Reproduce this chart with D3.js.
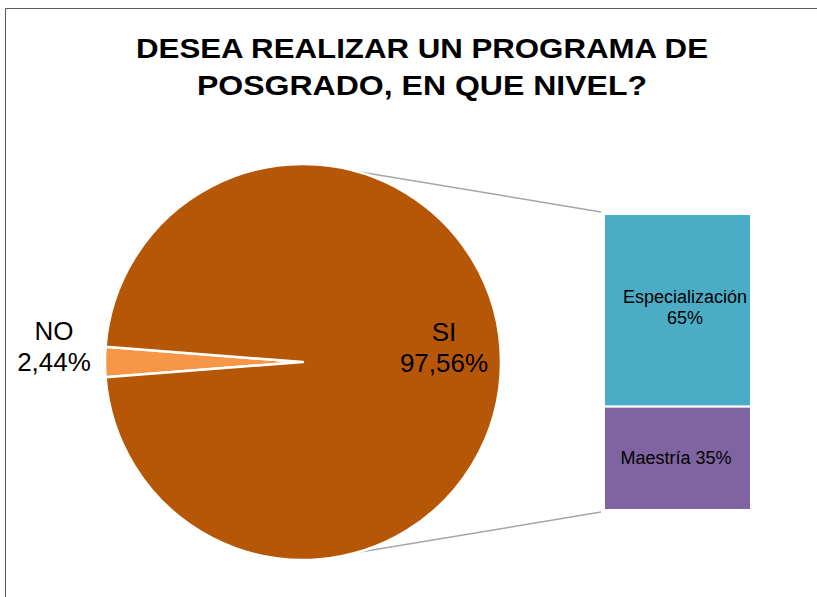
<!DOCTYPE html>
<html>
<head>
<meta charset="utf-8">
<script src="https://cdn.jsdelivr.net/npm/d3@7"></script>
<style>
  body { margin: 0; background: #fff; }
  text { font-family: "Liberation Sans", Arial, sans-serif; fill: #000; }
</style>
</head>
<body>
<div class="chart"></div>
<script>
// data
var titleLines = ["DESEA REALIZAR UN PROGRAMA DE", "POSGRADO, EN QUE NIVEL?"];
var pieLabels = ["NO", "SI"];
var pieValues = [2.44, 97.56];
var pieColors = ["#F79646", "#B65708"];

var barLabels = ["Maestría", "Especialización"];
var barValues = [35, 65];
var barColors = ["#8064A2", "#4BACC6"];

var width = 817,
    height = 597;

var svg = d3.select(".chart")
  .append("svg")
  .attr("width", width)
  .attr("height", height);

// outer frame
svg.append("path")
  .attr("d", "M5.5," + height + "V8.5H" + width)
  .attr("fill", "none")
  .attr("stroke", "#595959")
  .attr("stroke-width", 1);

// title
var titleW = [572, 450];
svg.append("g").selectAll("text")
  .data(titleLines)
  .enter().append("text")
  .attr("x", 422)
  .attr("y", function(d, i) { return 58 + i * 37; })
  .attr("text-anchor", "middle")
  .attr("textLength", function(d, i) { return titleW[i]; })
  .attr("lengthAdjust", "spacingAndGlyphs")
  .style("font-size", "28px")
  .style("font-weight", "bold")
  .text(function(d) { return d; });

// pie
var cx = 303, cy = 362, r = 198;
var total = d3.sum(pieValues);
var noAngle = pieValues[0] / total * 2 * Math.PI;
var start = 1.5 * Math.PI - noAngle / 2;

var pie = d3.pie().sort(null)
  .startAngle(start)
  .endAngle(start + 2 * Math.PI);
var arc = d3.arc().innerRadius(0).outerRadius(r);
var arcs = pie(pieValues);

// bar scale
var barX = 604, barW = 147;
var y = d3.scaleLinear().domain([0, d3.sum(barValues)]).range([510, 214]);

// connector lines
var connAngle = 0.27;
var conn = svg.append("g")
  .attr("stroke", "#A6A6A6")
  .attr("stroke-width", 1.5)
  .attr("fill", "none");
conn.append("line")
  .attr("x1", cx + r * Math.sin(connAngle)).attr("y1", cy - r * Math.cos(connAngle))
  .attr("x2", barX - 3).attr("y2", y(d3.sum(barValues)) - 2);
conn.append("line")
  .attr("x1", cx + r * Math.sin(connAngle)).attr("y1", cy + r * Math.cos(connAngle))
  .attr("x2", barX - 3).attr("y2", y(0) + 2);

var pieG = svg.append("g")
  .attr("transform", "translate(" + cx + "," + cy + ")");

pieG.selectAll("path")
  .data(arcs)
  .enter().append("path")
  .attr("d", arc)
  .attr("fill", function(d, i) { return pieColors[i]; })
  .attr("stroke", "#fff")
  .attr("stroke-width", 2.5)
  .attr("stroke-linejoin", "round");

// pie labels
var pieLabelPos = [[54, 340], [444, 341]];
pieLabels.forEach(function(lab, i) {
  var t = svg.append("text")
    .attr("text-anchor", "middle")
    .style("font-size", "26px");
  t.append("tspan").attr("x", pieLabelPos[i][0]).attr("y", pieLabelPos[i][1]).text(lab);
  t.append("tspan").attr("x", pieLabelPos[i][0]).attr("y", pieLabelPos[i][1] + 31)
    .text(pieValues[i].toFixed(2).replace(".", ",") + "%");
});

// stacked bar
var cum = 0;
var segs = barValues.map(function(v) {
  var s = {y0: cum, y1: cum + v};
  cum += v;
  return s;
});

svg.append("g").selectAll("rect")
  .data(segs)
  .enter().append("rect")
  .attr("x", barX)
  .attr("y", function(d) { return y(d.y1); })
  .attr("width", barW)
  .attr("height", function(d) { return y(d.y0) - y(d.y1); })
  .attr("fill", function(d, i) { return barColors[i]; })
  .attr("stroke", "#fff")
  .attr("stroke-width", 2);

// bar labels
svg.append("text")
  .attr("x", 676)
  .attr("y", (y(segs[0].y0) + y(segs[0].y1)) / 2 + 6)
  .attr("text-anchor", "middle")
  .style("font-size", "18px")
  .text(barLabels[0] + " " + barValues[0] + "%");

var esp = svg.append("text")
  .attr("text-anchor", "middle")
  .style("font-size", "18px");
esp.append("tspan").attr("x", 685).attr("y", 303).text(barLabels[1]);
esp.append("tspan").attr("x", 685).attr("y", 324).text(barValues[1] + "%");
</script>
</body>
</html>
